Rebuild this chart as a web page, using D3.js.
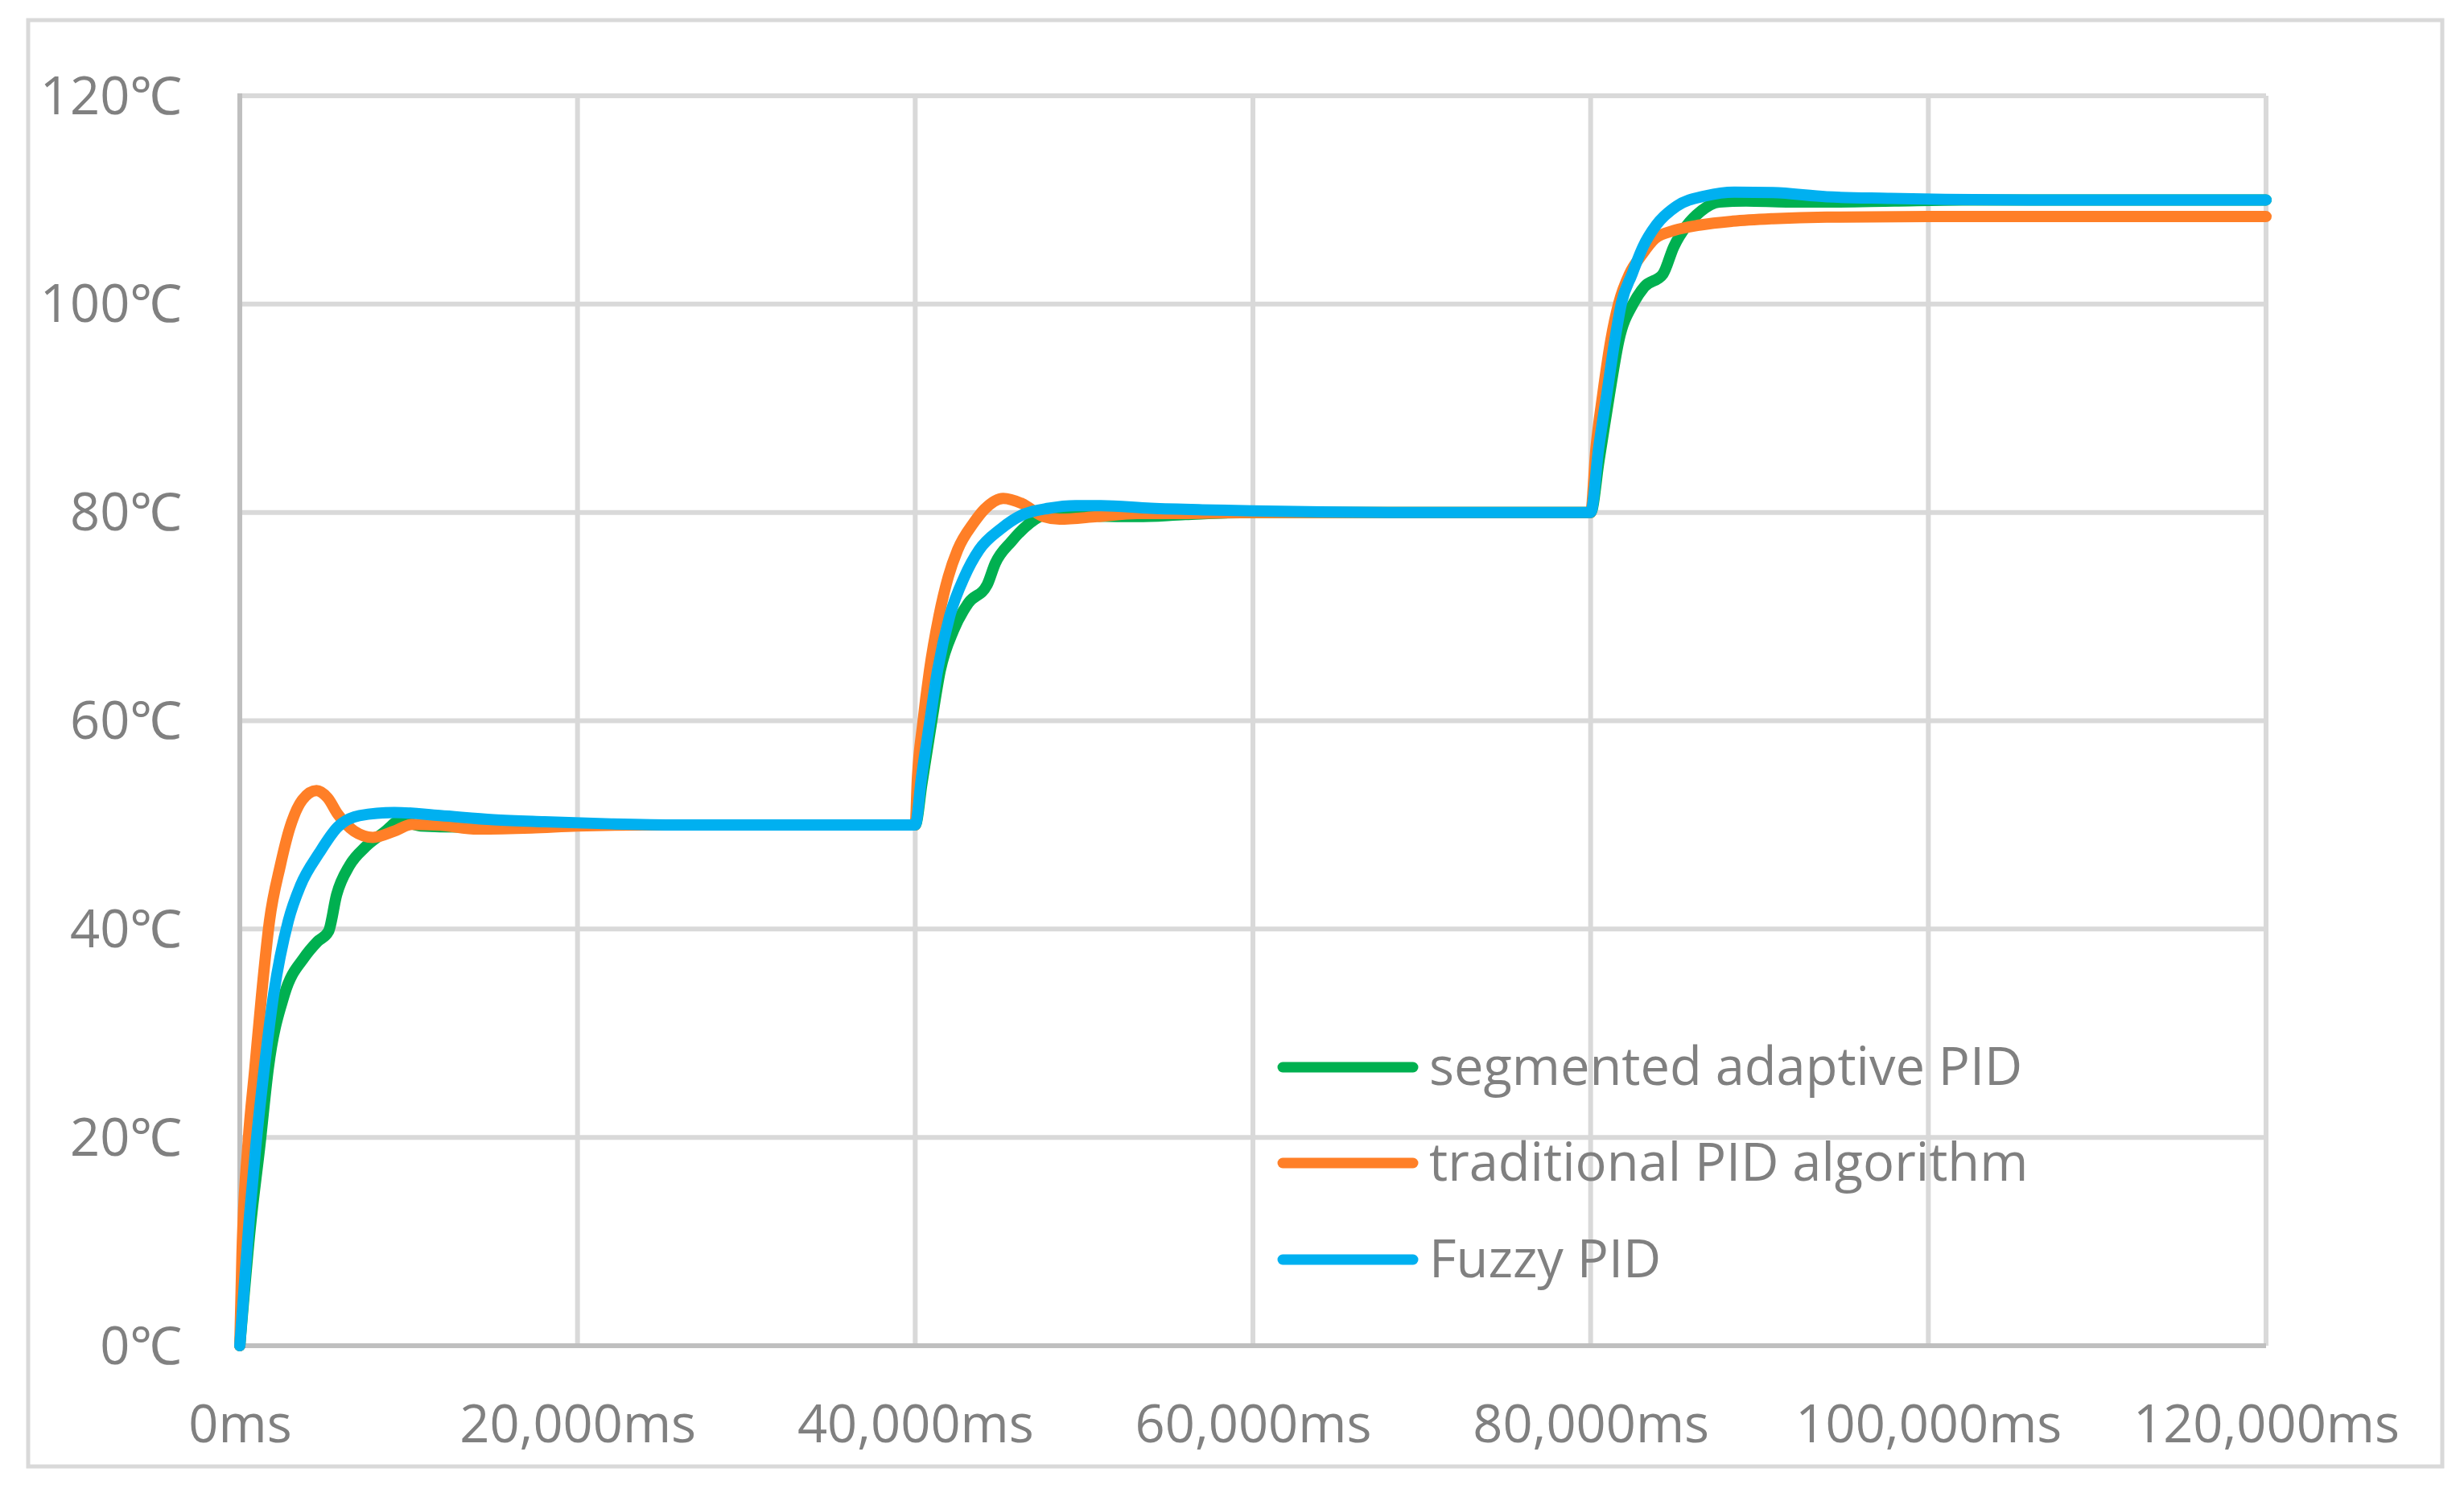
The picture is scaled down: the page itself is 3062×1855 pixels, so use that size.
<!DOCTYPE html>
<html>
<head>
<meta charset="utf-8">
<script src="https://cdn.jsdelivr.net/npm/d3@7"></script>
<style>
  html, body { margin: 0; padding: 0; background: #ffffff; }
  svg { display: block; }
  text { font-family: "Open Sans", "Noto Sans", sans-serif; fill: #808080; }
</style>
</head>
<body>
<svg id="chart" width="3062" height="1855"></svg>
<script>
// ---- data (time in ms, temperature in °C) ----
const xTicks = [0, 20000, 40000, 60000, 80000, 100000, 120000];
const yTicks = [0, 20, 40, 60, 80, 100, 120];
const seriesNames = ["segmented adaptive PID", "traditional PID algorithm", "Fuzzy PID"];
const seriesColors = ["#00b050", "#ff7f27", "#00b0f0"];

const segmentedPID = [
  [0, 0], [600, 11], [1207, 19.5], [1684, 26.6], [2637, 33.7], [3828, 37.3], [4600, 38.8],
  [5258, 39.8], [5735, 43.3], [6498, 46.1], [7450, 47.9], [8560, 49.3], [9500, 50.4],
  [10700, 49.9], [13000, 49.8], [16000, 49.9], [20000, 50], [40000, 50],
  [40400, 54], [40953, 59.7], [41480, 64.8], [42275, 68.7], [43147, 71.3], [44260, 73.05],
  [44736, 75.1], [45690, 77.2], [46802, 79], [47914, 80], [48900, 80.3], [49800, 80.2],
  [50775, 79.65], [53160, 79.6], [56000, 79.8], [60000, 80], [80000, 80],
  [80500, 85], [81112, 91.3], [81668, 96.5], [82541, 100.1], [83176, 101.65], [84288, 102.9],
  [84923, 105.5], [85718, 107.6], [86512, 108.9], [87624, 109.8], [89212, 109.9], [91595, 109.8],
  [93980, 109.8], [98000, 109.9], [102000, 110], [120000, 110]
];

const traditionalPID = [
  [0, 0], [130, 8.8], [491, 19.5], [890, 26.6], [1290, 33.7], [1760, 40.8], [2400, 46.1],
  [2960, 49.7], [3700, 52.4], [4540, 53.3], [5200, 52.6], [5815, 51], [6770, 49.4], [7880, 48.8],
  [9150, 49.4], [10200, 50.05], [11700, 50], [14090, 49.6], [17270, 49.7], [20000, 49.9],
  [24000, 50], [40000, 50],
  [40130, 54.5], [40447, 59.7], [40843, 64.8], [41400, 70], [41955, 73.8], [42510, 76.4],
  [43465, 79], [44100, 80.3], [45213, 81.35], [46325, 80.85], [47596, 79.6], [48550, 79.35],
  [50775, 79.6], [53160, 79.9], [56000, 79.9], [60000, 80], [80000, 80],
  [80318, 86.2], [80715, 91.3], [81192, 96.5], [81668, 100.1], [82302, 102.9], [83018, 104.7],
  [83811, 106.3], [84923, 107.06], [86512, 107.6], [88419, 107.96], [90802, 108.2],
  [93980, 108.35], [100000, 108.4], [120000, 108.4]
];

const fuzzyPID = [
  [0, 0], [572, 12.4], [969, 19.5], [1446, 26.6], [2002, 33.7], [2875, 40.8], [3600, 44.2],
  [4700, 47.3], [5800, 49.8], [7085, 50.9], [9150, 51.2], [11850, 50.9], [15030, 50.5],
  [18050, 50.3], [22000, 50.1], [26000, 50], [40000, 50],
  [40367, 54.5], [40843, 59.7], [41320, 64.8], [42035, 70], [42909, 73.8], [43783, 76.4],
  [45054, 78.4], [46325, 79.75], [47914, 80.4], [49503, 80.65], [51000, 80.65], [53950, 80.4],
  [57000, 80.25], [60000, 80.15], [64000, 80.05], [68000, 80], [80000, 80],
  [80477, 86.2], [80953, 91.3], [81430, 96.5], [81826, 100.1], [82461, 102.9], [83100, 105.5],
  [83890, 107.6], [85086, 109.4], [86830, 110.4], [88500, 110.75], [90800, 110.7],
  [93980, 110.3], [97600, 110.15], [101000, 110.05], [106000, 110], [120000, 110]
];

const allSeries = [segmentedPID, traditionalPID, fuzzyPID];

// ---- layout ----
const svg = d3.select("#chart");
const W = 3062, H = 1855;
const plot = { left: 298, right: 2816, top: 119, bottom: 1672 };
const fontSize = 65;

svg.append("rect").attr("x", 0).attr("y", 0).attr("width", W).attr("height", H).attr("fill", "#ffffff");
svg.append("rect").attr("x", 35).attr("y", 25).attr("width", 3000).attr("height", 1797)
  .attr("fill", "none").attr("stroke", "#d9d9d9").attr("stroke-width", 5);

const x = d3.scaleLinear().domain([0, 120000]).range([plot.left, plot.right]);
const y = d3.scaleLinear().domain([0, 120]).range([plot.bottom, plot.top]);

// gridlines
svg.append("g").selectAll("line").data(yTicks.filter(d => d > 0)).join("line")
  .attr("x1", plot.left).attr("x2", plot.right)
  .attr("y1", d => y(d)).attr("y2", d => y(d))
  .attr("stroke", "#d9d9d9").attr("stroke-width", 6);
svg.append("g").selectAll("line").data(xTicks.filter(d => d > 0)).join("line")
  .attr("x1", d => x(d)).attr("x2", d => x(d))
  .attr("y1", plot.top).attr("y2", plot.bottom)
  .attr("stroke", "#d9d9d9").attr("stroke-width", 6);

// axis lines
svg.append("line").attr("x1", plot.left).attr("x2", plot.right).attr("y1", plot.bottom).attr("y2", plot.bottom)
  .attr("stroke", "#bfbfbf").attr("stroke-width", 6);
svg.append("line").attr("x1", plot.left).attr("x2", plot.left).attr("y1", plot.top - 3).attr("y2", plot.bottom + 3)
  .attr("stroke", "#bfbfbf").attr("stroke-width", 6);

// axis labels via d3 axes
const fmtX = d => d3.format(",")(d) + "ms";
const fmtY = d => d + "\u2103";
const xAxis = svg.append("g").attr("transform", `translate(0,${plot.bottom})`)
  .call(d3.axisBottom(x).tickValues(xTicks).tickFormat(fmtX).tickSize(0).tickPadding(0));
xAxis.select(".domain").remove();
xAxis.selectAll("text").attr("dy", null).attr("y", 120)
  .style("font-size", fontSize + "px").attr("fill", "#808080");

const yAxis = svg.append("g").attr("transform", `translate(${plot.left},0)`)
  .call(d3.axisLeft(y).tickValues(yTicks).tickFormat(fmtY).tickSize(0).tickPadding(0));
yAxis.select(".domain").remove();
yAxis.selectAll("text").attr("x", -72).attr("dy", "0.34em")
  .style("font-size", fontSize + "px").attr("fill", "#808080");

// series
const line = d3.line().x(d => x(d[0])).y(d => y(d[1])).curve(d3.curveMonotoneX);
svg.append("g").selectAll("path").data(allSeries).join("path")
  .attr("d", line)
  .attr("fill", "none")
  .attr("stroke", (d, i) => seriesColors[i])
  .attr("stroke-width", 14)
  .attr("stroke-linejoin", "round")
  .attr("stroke-linecap", "round");

// legend
const legend = svg.append("g");
const legY = [1326, 1445, 1565];
seriesNames.forEach((name, i) => {
  legend.append("line").attr("x1", 1594).attr("x2", 1756).attr("y1", legY[i]).attr("y2", legY[i])
    .attr("stroke", seriesColors[i]).attr("stroke-width", 13).attr("stroke-linecap", "round");
  legend.append("text").attr("x", 1776).attr("y", legY[i] + 22)
    .style("font-size", fontSize + "px").attr("fill", "#808080").text(name);
});
</script>
</body>
</html>
